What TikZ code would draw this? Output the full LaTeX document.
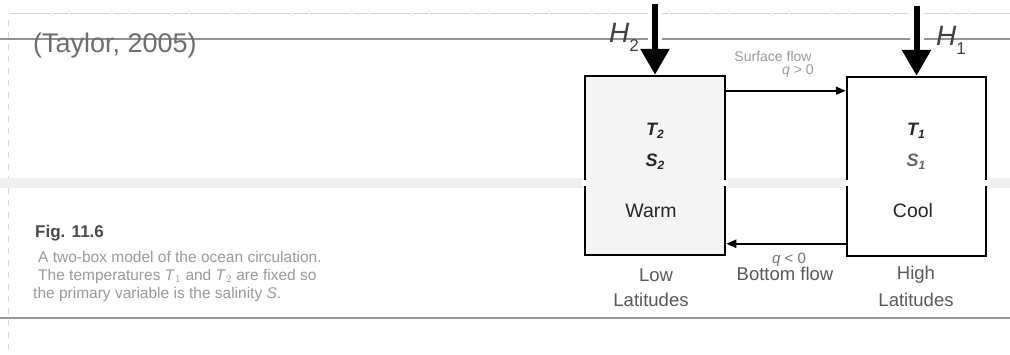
\documentclass[tikz,border=0pt]{standalone}
\usepackage{fontspec}
\setmainfont{Liberation Sans}
\usetikzlibrary{arrows.meta}
\definecolor{inkgray}{HTML}{6E6E6E}
\definecolor{lightink}{HTML}{9A9A9A}
\definecolor{figink}{HTML}{4A4A4A}
\tikzset{
  boxstyle/.style={draw=black, line width=2.5pt, rectangle, inner sep=0pt},
  harrow/.style={line width=6pt, -{Triangle[length=26pt,width=28pt]}},
  halo/.style={line width=14pt, white},
  flow/.style={line width=2pt, -{Triangle[length=10pt,width=8pt]}},
  boxtext/.style={font=\fontsize{18}{20}\selectfont\itshape\bfseries, text=black!85},
  boxword/.style={font=\fontsize{19.5}{21}\selectfont, text=black!85},
  undertext/.style={font=\fontsize{18.5}{20}\selectfont, text=black!65, align=center},
  flowtext/.style={font=\fontsize{14}{16}\selectfont, text=lightink, align=center},
  hlabel/.style={font=\fontsize{28}{30}\selectfont\itshape, text=black!75, inner sep=0pt},
  capline/.style={font=\fontsize{15.5}{17}\selectfont, text=lightink, anchor=west, inner sep=0pt},
}
\begin{document}
\begin{tikzpicture}[x=1pt,y=-1pt]
\useasboundingbox (0,0) rectangle (1010,354);
\fill[white] (0,0) rectangle (1010,354);
% scan rules and band
\draw[gray!35, line width=1pt, dash pattern=on 40pt off 3pt on 15pt off 2pt] (10,13) -- (1010,13);
\draw[gray!85, line width=2pt] (0,39) -- (1010,39);
\draw[gray!30, line width=1pt, dash pattern=on 6pt off 6pt] (8,20) -- (8,354);
\fill[gray!12] (0,178) rectangle (1010,188);
\draw[gray!80, line width=2pt] (0,318) -- (1010,318);
% title and caption
\node[anchor=west, inner sep=0pt, text=inkgray, font=\fontsize{27}{30}\selectfont] (ttl) at (33,46) {(Taylor, 2005)};
\node[anchor=west, inner sep=0pt, text=figink, font=\fontsize{17}{19}\selectfont\bfseries] (fig) at (35,233) {Fig. 11.6};
\node[capline] (cap1) at (38,257) {A two-box model of the ocean circulation.};
\node[capline] (cap2) at (38,276) {The temperatures \textit{T}$_1$ and \textit{T}$_2$ are fixed so};
\node[capline] (cap3) at (33,294) {the primary variable is the salinity \textit{S}.};
% boxes
\node[boxstyle, fill=gray!9, minimum width=140pt, minimum height=179pt] (lbox) at (655,165.5) {};
\node[boxstyle, fill=white, minimum width=139pt, minimum height=179pt] (rbox) at (916.5,166.5) {};
% band gaps across box borders
\foreach \xx in {585,725,847,986} {\fill[white] (\xx-3,180) rectangle (\xx+3,186);}
% box contents
\node[boxtext] (t2) at (655,131) {T\raisebox{-3pt}{\fontsize{12}{12}\selectfont 2}};
\node[boxtext] (s2) at (655,162) {S\raisebox{-3pt}{\fontsize{12}{12}\selectfont 2}};
\node[boxword] (warm) at (651,211) {Warm};
\node[boxtext] (t1) at (916,131) {T\raisebox{-3pt}{\fontsize{12}{12}\selectfont 1}};
\node[boxtext, text=black!60] (s1) at (916,162) {S\raisebox{-3pt}{\fontsize{12}{12}\selectfont 1}};
\node[boxword] (cool) at (913,211) {Cool};
% heat arrows
\coordinate (h2top) at (655,4);
\coordinate (h1top) at (916.5,6);
\draw[halo] (h2top) -- ++(0,44);
\draw[halo] (h1top) -- ++(0,42);
\draw[harrow] (h2top) -- (lbox.north);
\draw[harrow] (h1top) -- (rbox.north);
\node[hlabel, anchor=west] (h2) at (609,37) {H\raisebox{-9pt}{\fontsize{17}{17}\selectfont\upshape 2}};
\node[hlabel, anchor=west] (h1) at (936,40) {H\raisebox{-9pt}{\fontsize{17}{17}\selectfont\upshape 1}};
% flows
\draw[flow] ([yshift=-16pt]lbox.north east) -- ([yshift=-15pt]rbox.north west);
\draw[flow] ([yshift=13.5pt]rbox.south west) -- ([yshift=12.5pt]lbox.south east);
\node[flowtext] (sf) at (773,56) {Surface flow};
\node[flowtext] (qpos) at (798,71) {\textit{q} > 0};
\node[undertext, text=black!55, font=\fontsize{15}{16}\selectfont] (qneg) at (789,260) {\textit{q} < 0};
\node[undertext] (bf) at (785,274) {Bottom flow};
\node[undertext] (low) at (656,275) {Low};
\node[undertext] (lowl) at (651,300) {Latitudes};
\node[undertext] (high) at (916,275) {High};
\node[undertext] (highl) at (916,300) {Latitudes};
\end{tikzpicture}
\end{document}
